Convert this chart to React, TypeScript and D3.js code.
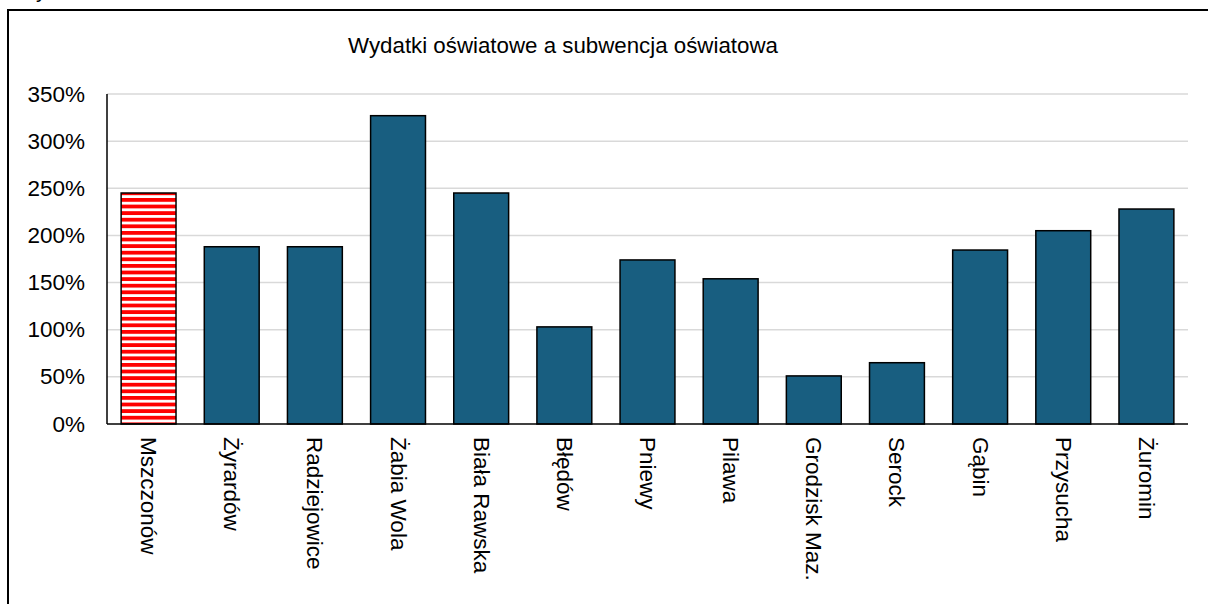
import React from "react";
import * as d3 from "d3";

const categories = ["Mszczonów","Żyrardów","Radziejowice","Żabia Wola","Biała Rawska","Błędów","Pniewy","Pilawa","Grodzisk Maz.","Serock","Gąbin","Przysucha","Żuromin"];
const values = [2.45, 1.88, 1.88, 3.27, 2.45, 1.03, 1.74, 1.54, 0.51, 0.65, 1.845, 2.05, 2.28];
const yTicks = [0, 0.5, 1, 1.5, 2, 2.5, 3, 3.5];
const title = "Wydatki oświatowe a subwencja oświatowa";

export default function App() {
  const W = 1208, H = 604;
  const left = 107, right = 1188, top = 94, bottom = 424;
  const x = d3.scaleBand<string>().domain(categories).range([left, right]).paddingInner(0.34).paddingOuter(0.17);
  const y = d3.scaleLinear().domain([0, 3.5]).range([bottom, top]);
  const font = "Arial, 'Liberation Sans', sans-serif";
  return (
    <svg width={W} height={H} style={{ position: "absolute", left: 0, top: 0, background: "#fff" }} fontFamily={font}>
      <defs>
        <pattern id="stripes" patternUnits="userSpaceOnUse" width={8} height={6.6}>
          <rect width={8} height={6.6} fill="#fff" />
          <rect width={8} height={3.8} fill="#ff0000" />
        </pattern>
      </defs>
      <text x={36} y={-3} fontSize={22} fill="#000">y</text>
      <rect x={8} y={10} width={1300} height={700} fill="#fff" stroke="#000" strokeWidth={2} />
      <text x={563} y={53} textAnchor="middle" fontSize={22.3} fill="#000">{title}</text>
      {yTicks.map((t) => (
        <g key={t}>
          {t > 0 && <line x1={left} x2={right} y1={y(t)} y2={y(t)} stroke="#d9d9d9" strokeWidth={1.5} />}
          <text x={85} y={y(t)} textAnchor="end" dominantBaseline="central" fontSize={22.5} fill="#000">{d3.format(".0%")(t)}</text>
        </g>
      ))}
      {categories.map((c, i) => (
        <rect key={c} x={x(c)!} y={y(values[i])} width={x.bandwidth()} height={y(0) - y(values[i])}
          fill={i === 0 ? "url(#stripes)" : "#185E80"} stroke="#000" strokeWidth={1.5} />
      ))}
      <line x1={left} x2={left} y1={top} y2={bottom} stroke="#000" strokeWidth={1.5} />
      <line x1={left} x2={right} y1={bottom} y2={bottom} stroke="#000" strokeWidth={1.5} />
      {categories.map((c) => (
        <text key={c} transform={`translate(${x(c)! + x.bandwidth() / 2},437) rotate(90)`} textAnchor="start"
          dominantBaseline="central" fontSize={22.5} fill="#000">{c}</text>
      ))}
    </svg>
  );
}
